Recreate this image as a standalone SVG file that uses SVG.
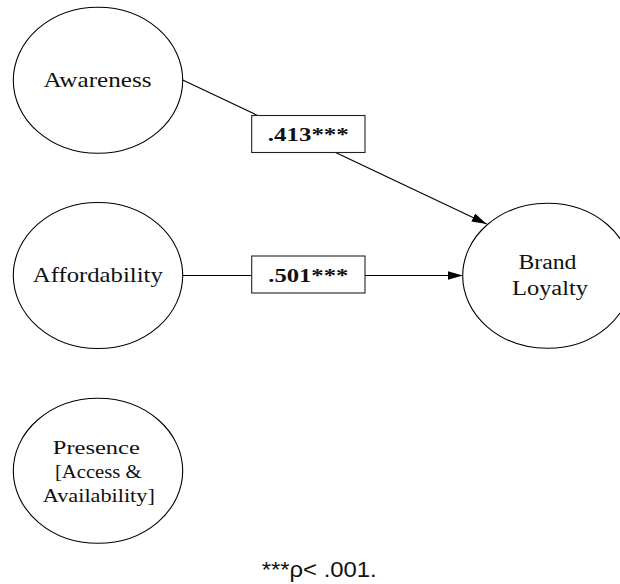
<svg xmlns="http://www.w3.org/2000/svg" width="620" height="584" viewBox="0 0 620 584">
<style>
  .node { fill: #ffffff; stroke: #000000; stroke-width: 1.1; }
  .lbl { font-family: "Liberation Serif", "Times New Roman", serif; fill: #111111; text-anchor: middle; }
  .coef { font-family: "Liberation Serif", "Times New Roman", serif; font-weight: bold; fill: #111111; text-anchor: middle; font-size: 19px; }
  .box { fill: #ffffff; stroke: #222222; stroke-width: 1.1; }
  .edge { stroke: #000000; stroke-width: 1.1; fill: none; }
  .note { font-family: "Liberation Sans", Arial, sans-serif; font-size: 22px; fill: #111111; }
</style>
<defs>
  <marker id="arr" markerWidth="16" markerHeight="10" refX="15" refY="5" orient="auto" markerUnits="userSpaceOnUse">
    <path d="M0,0.6 L15,5 L0,9.4 z" fill="#000000"/>
  </marker>
</defs>

<g id="connectors">
  <line class="edge" x1="182.7" y1="80" x2="486.7" y2="224" marker-end="url(#arr)"/>
  <line class="edge" x1="182.7" y1="275.5" x2="462.7" y2="275.5" marker-end="url(#arr)"/>
  <g id="label-awareness-loyalty">
    <rect class="box" x="251.7" y="115.5" width="113.3" height="37"/>
    <text class="coef" x="308.3" y="141" textLength="81" lengthAdjust="spacingAndGlyphs">.413***</text>
  </g>
  <g id="label-affordability-loyalty">
    <rect class="box" x="251.7" y="256" width="113.3" height="37"/>
    <text class="coef" x="308.3" y="281.7" textLength="80" lengthAdjust="spacingAndGlyphs">.501***</text>
  </g>
</g>

<g id="awareness">
  <ellipse class="node" cx="98" cy="80.3" rx="84.7" ry="73"/>
  <text class="lbl" x="97.5" y="86.7" font-size="21" textLength="108" lengthAdjust="spacingAndGlyphs">Awareness</text>
</g>

<g id="affordability">
  <ellipse class="node" cx="98" cy="275.5" rx="84.7" ry="73"/>
  <text class="lbl" x="97.8" y="282.3" font-size="21" textLength="130" lengthAdjust="spacingAndGlyphs">Affordability</text>
</g>

<g id="presence">
  <ellipse class="node" cx="98" cy="470.8" rx="84.7" ry="72.5"/>
  <text class="lbl" x="96.3" y="454" font-size="19" textLength="87" lengthAdjust="spacingAndGlyphs">Presence</text>
  <text class="lbl" x="98.3" y="477.5" font-size="19" textLength="86.7" lengthAdjust="spacingAndGlyphs">[Access &amp;</text>
  <text class="lbl" x="98.8" y="501.7" font-size="19" textLength="112" lengthAdjust="spacingAndGlyphs">Availability]</text>
</g>

<g id="brand-loyalty">
  <ellipse class="node" cx="547.4" cy="275.8" rx="84.7" ry="72.5"/>
  <text class="lbl" x="547.5" y="269.3" font-size="20" textLength="58" lengthAdjust="spacingAndGlyphs">Brand</text>
  <text class="lbl" x="550" y="295" font-size="20" textLength="76" lengthAdjust="spacingAndGlyphs">Loyalty</text>
</g>

<text class="note" x="261.7" y="576.7" textLength="115" lengthAdjust="spacingAndGlyphs">***ρ&lt; .001.</text>
</svg>
